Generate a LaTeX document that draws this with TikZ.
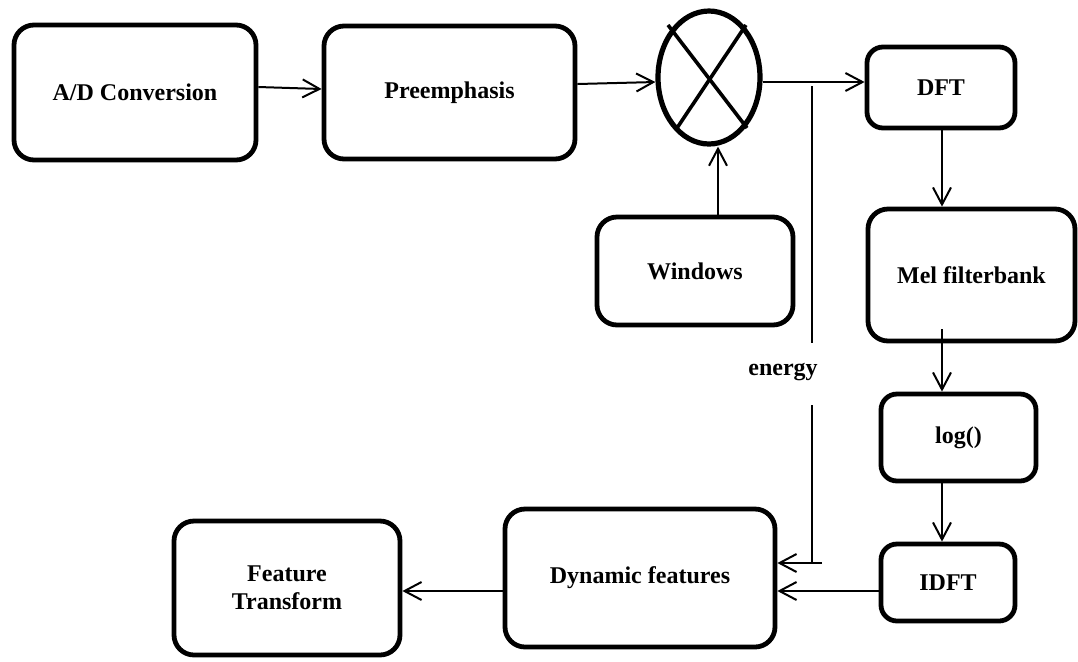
\documentclass[tikz,border=0pt]{standalone}
\usepackage{fontspec}
\setmainfont{Liberation Serif}
\usetikzlibrary{shapes.geometric,arrows.meta,calc}
\begin{document}
\begin{tikzpicture}[x=0.5pt,y=-0.5pt,
  every node/.style={font=\fontsize{12}{14}\selectfont\bfseries},
  blk/.style={draw,line width=2.4pt,rounded corners=10pt,inner sep=0pt,align=center},
  smallblk/.style={blk,rounded corners=8pt},
  conn/.style={line width=1pt},
  arr/.style={conn,-{Straight Barb[length=8.5pt,width=9pt,line width=1pt]}}]
\useasboundingbox (0,0) rectangle (1078,661);

% processing blocks
\node[blk,minimum width=121pt,minimum height=67.5pt] (ad) at (135,92.5) {A/D Conversion};
\node[blk,minimum width=125.5pt,minimum height=66.5pt] (pre) at (449.5,92.5) {Preemphasis};
\node[draw,ellipse,line width=2.6pt,inner sep=0pt,minimum width=51pt,minimum height=66.5pt] (mult) at (709,77.5) {};
\node[blk,minimum width=98pt,minimum height=54pt] (win) at (695,271) {Windows};
\node[smallblk,minimum width=74pt,minimum height=40.5pt] (dft) at (941,87.5) {DFT};
\node[blk,minimum width=103.5pt,minimum height=66pt] (mel) at (971.5,275) {Mel filterbank};
\node[smallblk,minimum width=77.5pt,minimum height=43.5pt] (log) at (958.5,437.5) {log()};
\node[smallblk,minimum width=67pt,minimum height=38.5pt] (idft) at (948,582.5) {IDFT};
\node[blk,minimum width=135pt,minimum height=69pt] (dyn) at (640,578) {Dynamic features};
\node[blk,minimum width=113pt,minimum height=67pt] (ft) at (287,588) {Feature\\Transform};

% cross inside the multiplier
\draw[line width=1.8pt] ($(mult.center)+(-41,-52.5)$) -- ($(mult.center)+(38,50.5)$);
\draw[line width=1.8pt] ($(mult.center)+(37,-52.5)$) -- ($(mult.center)+(-32,50.5)$);

% main signal path
\draw[arr] ([yshift=2.75pt]ad.east) -- ([yshift=1.75pt]pre.west);
\draw[arr] ([yshift=4.25pt]pre.east) -- ([yshift=-2.25pt]mult.west);
\draw[arr] ([yshift=-2.25pt]mult.east) -- ([yshift=2.75pt]dft.west);
\draw[arr] ([xshift=11.5pt]win.north) -- ([xshift=11.5pt]win.north |- mult.south);
\draw[arr] ([xshift=0.5pt]dft.south) -- ([xshift=0.5pt]dft.south |- mel.north);
\draw[arr] ([xshift=0.5pt,yshift=7pt]dft.south |- mel.south) -- ([xshift=0.5pt]dft.south |- log.north);
\draw[arr] ([xshift=0.5pt]dft.south |- log.south) -- ([xshift=0.5pt]dft.south |- idft.north);
\draw[arr] ([yshift=-4.25pt]idft.west) -- ([yshift=-4.25pt]idft.west -| dyn.east);
\draw[arr] ([yshift=-6.5pt]dyn.west) -- ([yshift=-6.5pt]dyn.west -| ft.east);

% energy branch
\coordinate (etop) at (812,86);
\coordinate (egapa) at (812,343);
\coordinate (egapb) at (812,405);
\coordinate (ecorner) at (812,563);
\coordinate (estub) at (822,563);
\node (energy) at (783,372) {energy};
\draw[conn] (etop) -- (egapa);
\draw[conn] (egapb) -- (ecorner);
\draw[arr] (estub) -- (estub -| dyn.east);
\end{tikzpicture}
\end{document}
